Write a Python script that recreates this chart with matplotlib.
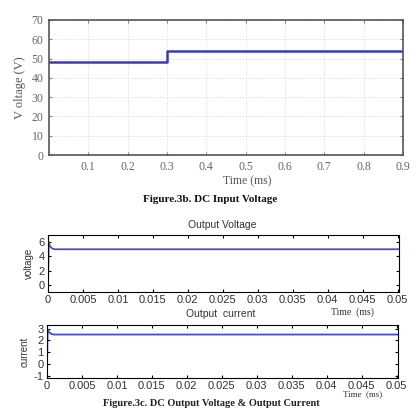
import matplotlib
matplotlib.use("Agg")
import matplotlib.pyplot as plt

# ---- data ----
in_time = [0.0, 0.3, 0.3, 0.9]
in_volt = [48, 48, 54, 54]
top_yticks = [0, 10, 20, 30, 40, 50, 60, 70]
top_xticks = [0.1, 0.2, 0.3, 0.4, 0.5, 0.6, 0.7, 0.8, 0.9]

out_time = [0.0, 0.0001, 0.0003, 0.0006, 0.001, 0.0505]
out_volt = [0.0, 6.0, 5.4, 5.1, 5.0, 5.0]
out_curr = [0.0, 2.9, 2.7, 2.55, 2.5, 2.5]
bot_xticks = [0, 0.005, 0.01, 0.015, 0.02, 0.025, 0.03, 0.035, 0.04, 0.045, 0.05]
bot_xlabels = ["0", "0.005", "0.01", "0.015", "0.02", "0.025", "0.03", "0.035", "0.04", "0.045", "0.05"]
volt_yticks = [0, 2, 4, 6]
curr_yticks = [-1, 0, 1, 2, 3]

W, H = 417, 409
fig = plt.figure(figsize=(W / 100, H / 100), dpi=100)

def box(l, t, r, b):
    return [l / W, 1 - b / H, (r - l) / W, (b - t) / H]

serif = "Liberation Serif"
sans = "Liberation Sans"

# ---- top chart ----
ax1 = fig.add_axes(box(49, 20, 403, 155))
ax1.plot(in_time, in_volt, color="#3a3ab8", lw=1.8)
ax1.set_xlim(0, 0.9)
ax1.set_ylim(0, 70)
ax1.set_xticks(top_xticks)
ax1.set_yticks(top_yticks)
ax1.set_xticklabels([f"{v:.1f}" for v in top_xticks], fontfamily=serif, fontsize=8.5, color="#666666")
ax1.set_yticklabels([str(v) for v in top_yticks], fontfamily=serif, fontsize=8.5, color="#666666")
ax1.grid(True, color="#d8d8d8", lw=0.7, ls=":")
ax1.tick_params(direction="in", length=2.5, color="#888888", pad=4, top=True, right=True)
for s in ax1.spines.values():
    s.set_color("#555555")
    s.set_linewidth(1.2)
ax1.set_ylabel("V oltage (V)", fontfamily=serif, fontsize=9, color="#555555", labelpad=4)
fig.text(247 / W, 1 - 181 / H, "Time (ms)", ha="center", va="center",
         fontfamily=serif, fontsize=8.5, color="#555555")
fig.text(210 / W, 1 - 199 / H, "Figure.3b. DC Input Voltage", ha="center", va="center",
         fontfamily=serif, fontsize=8, fontweight="bold", color="#111111")

# ---- output voltage ----
ax2 = fig.add_axes(box(48, 235, 399, 292))
ax2.plot(out_time, out_volt, color="#4a4ad8", lw=1.3)
ax2.set_xlim(0, 0.0502)
ax2.set_ylim(-1, 7)
ax2.set_yticks(volt_yticks)
ax2.set_xticks(bot_xticks)
ax2.set_xticklabels(bot_xlabels, fontfamily=sans, fontsize=8, color="#333333")
ax2.set_yticklabels([str(v) for v in volt_yticks], fontfamily=sans, fontsize=8, color="#333333")
ax2.tick_params(direction="in", length=2.5, pad=2.5, top=True, right=True)
ax2.set_ylabel("voltage", fontfamily=sans, fontsize=7, color="#333333", labelpad=3)
fig.text(222 / W, 1 - 225.5 / H, "Output Voltage", ha="center", va="center",
         fontfamily=sans, fontsize=7.5, color="#333333")
fig.text(352 / W, 1 - 312 / H, "Time  (ms)", ha="center", va="center",
         fontfamily=serif, fontsize=7, color="#333333")

# ---- output current ----
ax3 = fig.add_axes(box(47, 325, 398, 378))
ax3.plot(out_time, out_curr, color="#4a4ad8", lw=1.3)
ax3.set_xlim(0, 0.0502)
ax3.set_ylim(-1.15, 3.3)
ax3.set_yticks(curr_yticks)
ax3.set_xticks(bot_xticks)
ax3.set_xticklabels(bot_xlabels, fontfamily=sans, fontsize=8, color="#333333")
ax3.set_yticklabels([str(v) for v in curr_yticks], fontfamily=sans, fontsize=8, color="#333333")
ax3.tick_params(direction="in", length=2.5, pad=2.5, top=True, right=True)
ax3.set_ylabel("current", fontfamily=sans, fontsize=7, color="#333333", labelpad=3)
fig.text(221 / W, 1 - 314 / H, "Output  current", ha="center", va="center",
         fontfamily=sans, fontsize=7.5, color="#333333")
fig.text(363 / W, 1 - 394.5 / H, "Time  (ms)", ha="center", va="center",
         fontfamily=serif, fontsize=6.5, color="#333333")
fig.text(211 / W, 1 - 403.5 / H, "Figure.3c. DC Output Voltage & Output Current", ha="center", va="center",
         fontfamily=serif, fontsize=7.5, fontweight="bold", color="#222222")

fig.savefig("out.png", dpi=100)
